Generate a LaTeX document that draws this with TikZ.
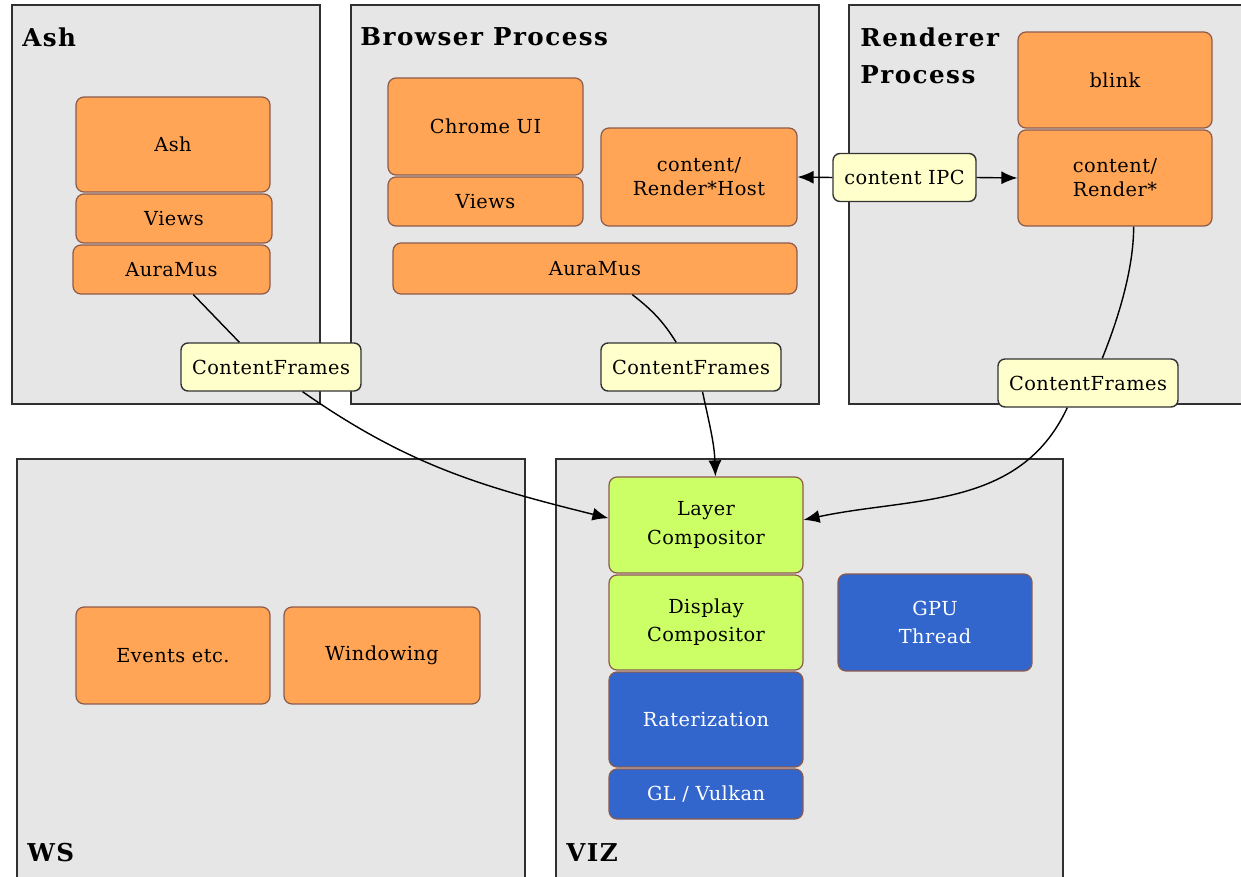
\documentclass[tikz,border=0pt]{standalone}
\usepackage{fontspec}
\setmainfont[LetterSpace=2.5]{DejaVu Serif}
\usetikzlibrary{arrows.meta}

\definecolor{panelgray}{HTML}{E6E6E6}
\definecolor{paneledge}{HTML}{303030}
\definecolor{boxorange}{HTML}{FFA555}
\definecolor{boxedge}{HTML}{8C5A4B}
\definecolor{tagyellow}{HTML}{FFFFCC}
\definecolor{compgreen}{HTML}{CCFF66}
\definecolor{gpublue}{HTML}{3366CC}

\begin{document}
\begin{tikzpicture}[
		x=0.02cm, y=-0.02cm,
		every node/.style={font=\fontsize{11}{13.6}\selectfont, align=center},
		panel/.style={draw=paneledge, fill=panelgray, line width=1.1pt},
		title/.style={anchor=north west, inner sep=0, font=\fontsize{14}{21.5}\selectfont\bfseries\addfontfeature{LetterSpace=6}, align=left},
		block/.style={draw=boxedge, line width=0.7pt, rounded corners=1.6mm, minimum width=3.88cm, minimum height=1.92cm, inner sep=0},
		ui/.style={block, fill=boxorange},
		comp/.style={block, fill=compgreen, font=\fontsize{11}{16}\selectfont},
		gpu/.style={block, fill=gpublue, text=white, font=\fontsize{11}{16}\selectfont},
		tag/.style={draw=black!80, fill=tagyellow, rounded corners=1.4mm, line width=0.8pt, minimum width=3.6cm, minimum height=0.96cm, inner sep=0},
		link/.style={line width=0.8pt},
		flow/.style={link, -{Latex[length=3.2mm,width=2.6mm]}},
	]
	\useasboundingbox (0,0) rectangle (1241,876);
	\clip (0,0) rectangle (1241,876);

	% process boxes
	\path[panel] (12,5) rectangle (320,404);
	\path[panel] (351,5) rectangle (819,404);
	\path[panel] (849,5) rectangle (1260,404);
	\path[panel] (17,459) rectangle (525,900);
	\path[panel] (556,459) rectangle (1063,900);

	\node[title] (ashTitle) at (22,27) {Ash};
	\node[title] (browserTitle) at (360,27) {Browser Process};
	\node[title] (rendererTitle) at (860,27) {Renderer\\Process};
	\node[title] (wsTitle) at (27,843) {WS};
	\node[title] (vizTitle) at (566,843) {VIZ};

	% Ash
	\node[ui, minimum height=1.9cm] (ashAsh) at (173,144.5) {Ash};
	\node[ui, minimum width=3.92cm, minimum height=0.98cm] (ashViews) at (174,218.5) {Views};
	\node[ui, minimum width=3.94cm, minimum height=0.98cm] (ashAura) at (171.5,269.5) {AuraMus};

	% Browser
	\node[ui, minimum width=3.9cm, minimum height=1.94cm] (chromeUI) at (485.5,126.5) {Chrome UI};
	\node[ui, minimum width=3.9cm, minimum height=0.98cm] (browserViews) at (485.5,201.5) {Views};
	\node[ui, minimum width=3.92cm, minimum height=1.96cm] (renderHost) at (699,177) {content/\\Render*Host};
	\node[ui, minimum width=8.08cm, minimum height=1.02cm] (browserAura) at (595,268.5) {AuraMus};

	% Renderer
	\node[ui] (blink) at (1115,80) {blink};
	\node[ui] (render) at (1115,178) {content/\\Render*};

	% WS
	\node[ui, minimum height=1.94cm] (events) at (173,655.5) {Events etc.};
	\node[ui, minimum width=3.92cm, minimum height=1.94cm] (windowing) at (382,655.5) {Windowing};

	% VIZ
	\node[comp] (layer) at (706,525) {Layer\\Compositor};
	\node[comp, minimum height=1.9cm] (display) at (706,622.5) {Display\\Compositor};
	\node[gpu, minimum height=1.9cm] (raster) at (706,719.5) {Raterization};
	\node[gpu, minimum height=1cm] (glVulkan) at (706,794) {GL / Vulkan};
	\node[gpu, minimum height=1.94cm] (gpuThread) at (935,622.5) {GPU\\Thread};

	% IPC
	\node[tag, minimum width=2.86cm] (ipc) at (904.5,177.5) {content IPC};
	\draw[flow] (ipc.west) -- (renderHost.east);
	\draw[flow] (ipc.east) -- (render.west);

	% frames
	\node[tag] (ashFrames) at (271,367) {ContentFrames};
	\node[tag] (browserFrames) at (691,367) {ContentFrames};
	\node[tag] (rendererFrames) at (1088,383) {ContentFrames};

	\draw[link] (ashAura.-49) -- (ashFrames.142);
	\draw[link] (browserAura.-35) to[out=-38,in=122] (browserFrames.121);
	\draw[link] (render.-69) to[out=-90,in=68,looseness=0.8] (rendererFrames.60);

	\draw[flow] (ashFrames.-38) to[out=-35,in=166] (layer.176);
	\draw[flow] (browserFrames.-65) to[out=-78,in=92] (layer.79);
	\draw[flow] (rendererFrames.-130) to[out=-115,in=12] (layer.3);
\end{tikzpicture}
\end{document}
